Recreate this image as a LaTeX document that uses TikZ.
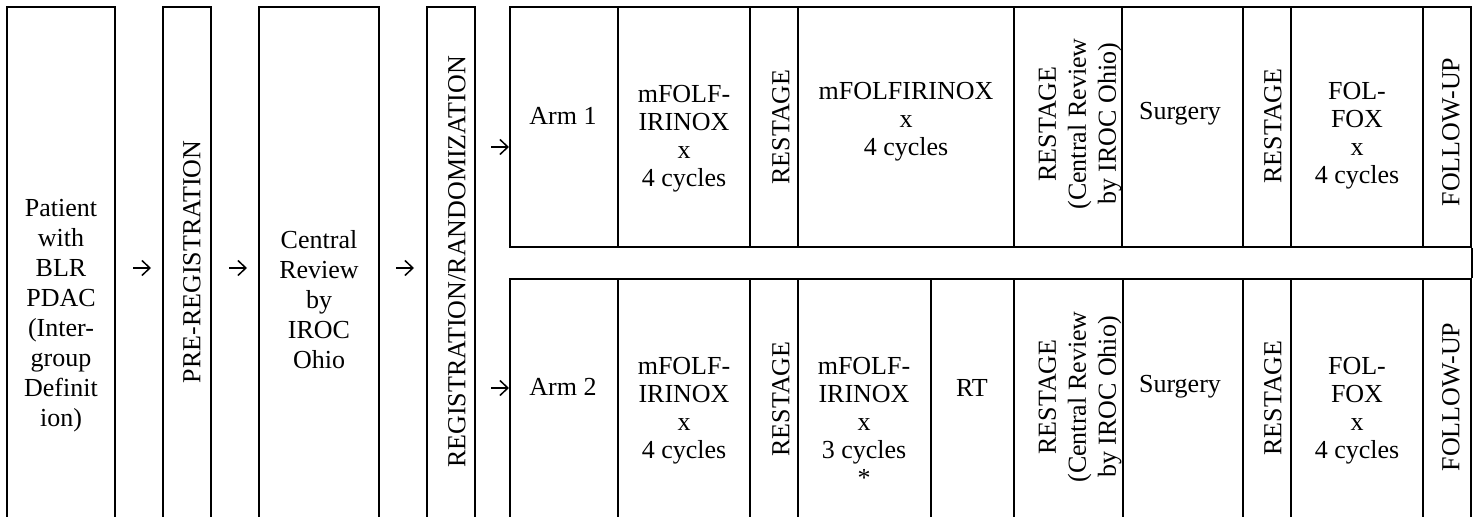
\documentclass[tikz,border=0pt]{standalone}
\usepackage{fontspec}
\setmainfont{Liberation Serif}
\usetikzlibrary{fit,arrows.meta,calc}
\begin{document}
\begin{tikzpicture}[x=0.5pt,y=-0.5pt,
  cell/.style={draw, line width=1pt, inner sep=0pt},
  tl/.style={inner sep=0pt, align=center, font=\fontsize{13}{15}\selectfont},
  ta/.style={inner sep=0pt, align=center, font=\fontsize{13}{14}\selectfont},
  rot/.style={inner sep=0pt, align=center, rotate=90, font=\fontsize{13}{15}\selectfont},
  arr/.style={line width=0.75pt, -{Straight Barb[length=4pt,width=7.5pt,line width=0.75pt]}}]
\useasboundingbox (0,0) rectangle (1477,517);
\clip (0,0) rectangle (1477,517);
% left boxes
\node[cell, fit={(7,7) (115,529)}] (b1) {};
\node[cell, fit={(163,7) (211,529)}] (b2) {};
\node[cell, fit={(259,7) (379,529)}] (b3) {};
\node[cell, fit={(427,7) (475,529)}] (b4) {};
\node[tl] (t1) at (61,316) {Patient\\with\\BLR\\PDAC\\(Inter-\\group\\Definit\\ion)};
\node[rot] (t2) at (192,262) {PRE-REGISTRATION};
\node[tl] (t3) at (319,300) {Central\\Review\\by\\IROC\\Ohio};
\node[rot] (t4) at (457,262) {REGISTRATION/RANDOMIZATION};
% arm 1 cells
\node[cell, fit={(510,7) (618,247)}] (a1c1) {};
\node[cell, fit={(618,7) (750,247)}] (a1c2) {};
\node[cell, fit={(750,7) (798,247)}] (a1c3) {};
\node[cell, fit={(798,7) (1014,247)}] (a1c4) {};
\node[cell, fit={(1014,7) (1122,247)}] (a1c5) {};
\node[cell, fit={(1122,7) (1243,247)}] (a1c6) {};
\node[cell, fit={(1243,7) (1291,247)}] (a1c7) {};
\node[cell, fit={(1291,7) (1423,247)}] (a1c8) {};
\node[cell, fit={(1423,7) (1471,247)}] (a1c9) {};
% arm 2 cells
\node[cell, fit={(510,279) (618,529)}] (a2c1) {};
\node[cell, fit={(618,279) (750,529)}] (a2c2) {};
\node[cell, fit={(750,279) (798,529)}] (a2c3) {};
\node[cell, fit={(798,279) (931,529)}] (a2c4) {};
\node[cell, fit={(931,279) (1014,529)}] (a2c5) {};
\node[cell, fit={(1014,279) (1123,529)}] (a2c6) {};
\node[cell, fit={(1123,279) (1243,529)}] (a2c7) {};
\node[cell, fit={(1243,279) (1291,529)}] (a2c8) {};
\node[cell, fit={(1291,279) (1423,529)}] (a2c9) {};
\node[cell, fit={(1423,279) (1471,529)}] (a2c10) {};
\draw[line width=1pt] (a1c9.south east) -- (a2c10.north east);
% arm 1 texts
\node[ta] (u1) at (563,116) {Arm 1};
\node[ta] (u2) at (684,139) {mFOLF-\\IRINOX\\x\\4 cycles};
\node[rot] (u3) at (781,127) {RESTAGE};
\node[ta] (u4) at (906,122) {mFOLFIRINOX\\x\\4 cycles};
\node[rot] (u5) at (1080,124) {RESTAGE\\(Central Review\\by IROC Ohio)};
\node[ta] (u6) at (1180,114) {Surgery};
\node[rot] (u7) at (1273,126) {RESTAGE};
\node[ta] (u8) at (1357,136) {FOL-\\FOX\\x\\4 cycles};
\node[rot] (u9) at (1451,132) {FOLLOW-UP};
% arm 2 texts
\node[ta] (v1) at (563,387) {Arm 2};
\node[ta] (v2) at (684,411) {mFOLF-\\IRINOX\\x\\4 cycles};
\node[rot] (v3) at (781,399) {RESTAGE};
\node[ta] (v4) at (864,422) {mFOLF-\\IRINOX\\x\\3 cycles\\*};
\node[ta] (v5) at (972,388) {RT};
\node[rot] (v6) at (1080,397) {RESTAGE\\(Central Review\\by IROC Ohio)};
\node[ta] (v7) at (1180,387) {Surgery};
\node[rot] (v8) at (1273,398) {RESTAGE};
\node[ta] (v9) at (1357,411) {FOL-\\FOX\\x\\4 cycles};
\node[rot] (v10) at (1451,397) {FOLLOW-UP};
% arrows
\draw[arr] ([xshift=8.5pt]b1.east) -- ([xshift=-5.5pt]b2.west);
\draw[arr] ([xshift=8.5pt]b2.east) -- ([xshift=-5.5pt]b3.west);
\draw[arr] ([xshift=8pt]b3.east) -- ([xshift=-6pt]b4.west);
\coordinate (s1) at ($(a1c1.west)+(-18,20)$);
\coordinate (s2) at ($(a2c1.west)+(-18,-16)$);
\draw[arr] (s1) -- (s1 -| a1c1.west);
\draw[arr] (s2) -- (s2 -| a2c1.west);
\end{tikzpicture}
\end{document}
